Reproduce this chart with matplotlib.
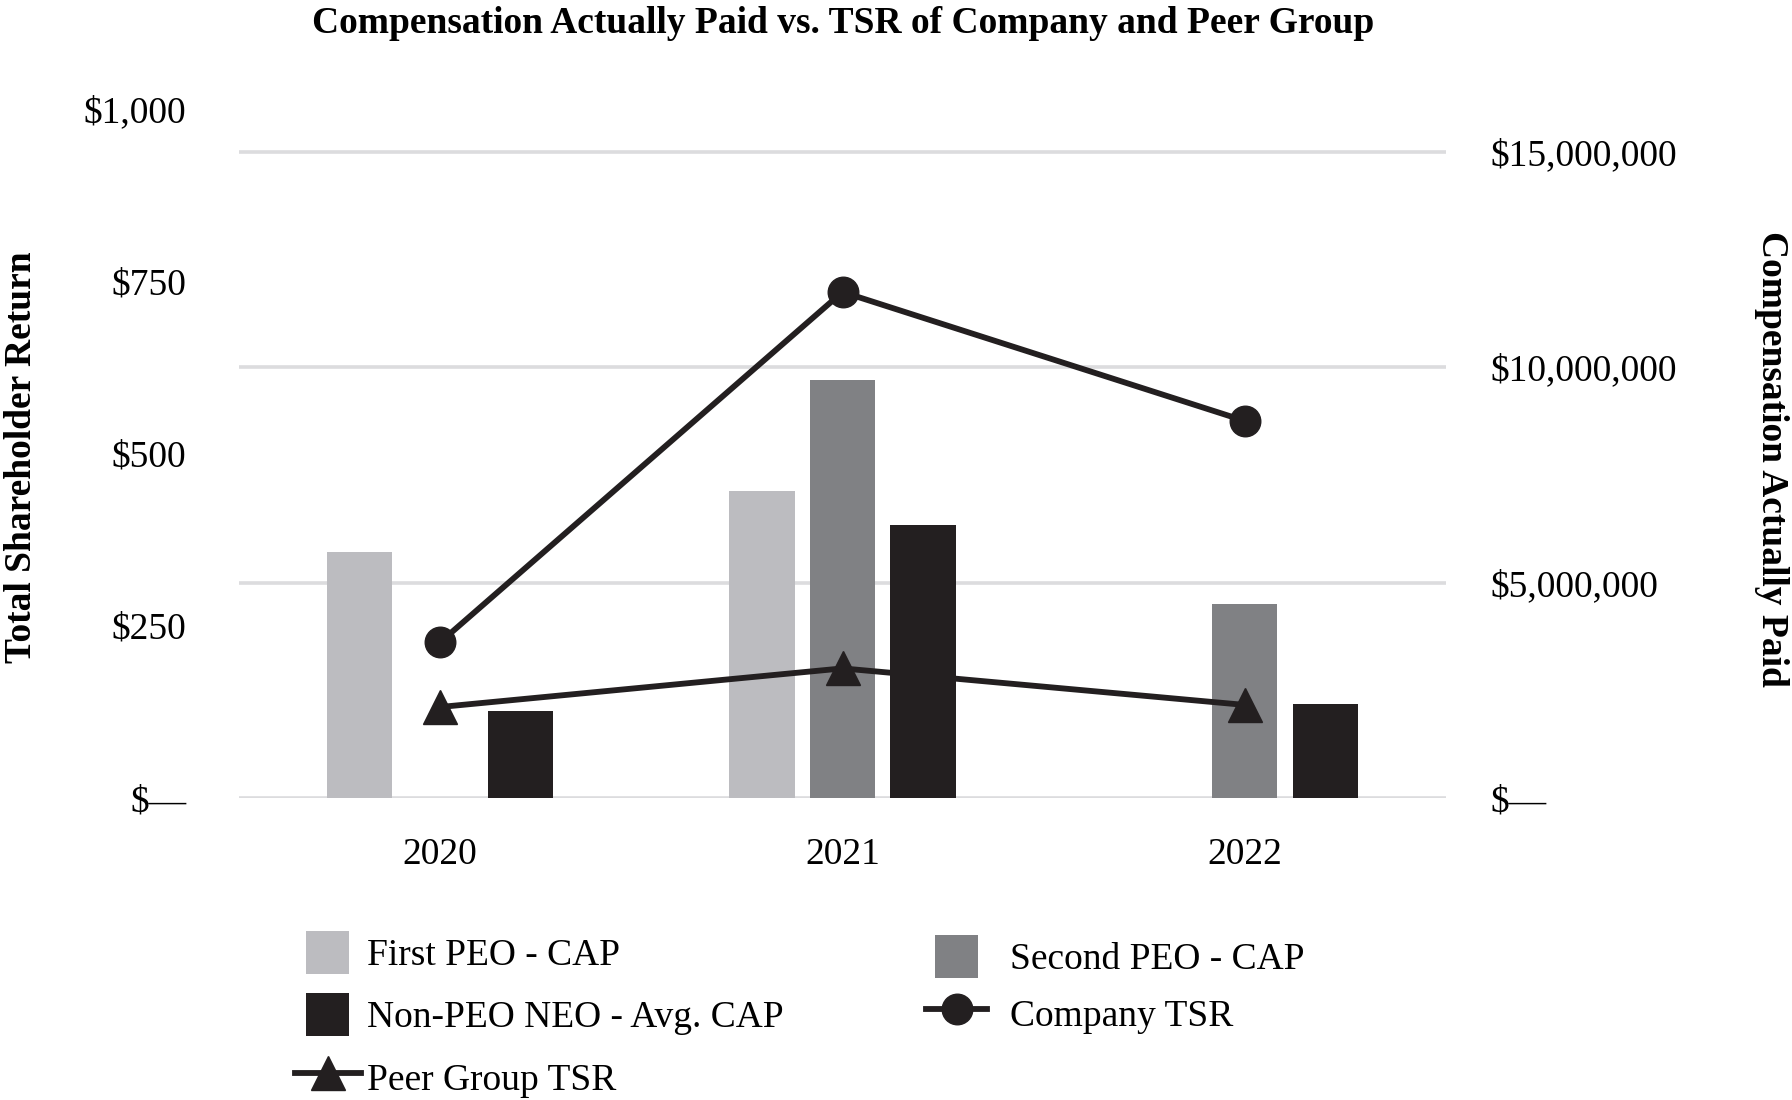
import matplotlib
matplotlib.use('Agg')
import matplotlib.pyplot as plt
from matplotlib.patches import Rectangle, Patch
from matplotlib.lines import Line2D
from matplotlib.legend_handler import HandlerPatch
import numpy as np

plt.rcParams['font.family'] = ['Liberation Serif', 'DejaVu Serif']
plt.rcParams['text.parse_math'] = False

# ---- data ----
years = ['2020', '2021', '2022']
first_peo_cap = [5.72e6, 7.12e6, np.nan]
second_peo_cap = [np.nan, 9.71e6, 4.51e6]
non_peo_cap = [2.03e6, 6.33e6, 2.18e6]
company_tsr = [226, 734, 547]
peer_tsr = [132, 188, 135]

tsr_ticks = [0, 250, 500, 750, 1000]
tsr_tick_labels = ['$\u2014', '$250', '$500', '$750', '$1,000']
cap_ticks = [0, 5e6, 10e6, 15e6]
cap_tick_labels = ['$\u2014', '$5,000,000', '$10,000,000', '$15,000,000']

series_names = ['First PEO - CAP', 'Second PEO - CAP', 'Non-PEO NEO - Avg. CAP',
                'Company TSR', 'Peer Group TSR']

# ---- style ----
c_first = '#bcbcc0'
c_second = '#808184'
c_dark = '#231f20'
c_grid = '#dcdcde'
FS = 27
LW = 4.2

fig = plt.figure(figsize=(17.92, 11), dpi=100)
ax = fig.add_axes([0.1334, 0.27455, 0.6735, 0.6267])
ax2 = ax.twinx()

x = np.arange(len(years))
bw = 0.162
off = 0.2
ax.bar(x - off, first_peo_cap, bw, color=c_first, zorder=2)
ax.bar(x, second_peo_cap, bw, color=c_second, zorder=2)
ax.bar(x + off, non_peo_cap, bw, color=c_dark, zorder=2)

ax.set_ylim(0, 16e6)
ax.set_xlim(-0.5, 2.5)
ax.set_yticks(cap_ticks)
ax.set_yticklabels(cap_tick_labels)
ax.yaxis.tick_right()
ax.yaxis.set_label_position('right')
ax.grid(axis='y', color=c_grid, lw=2.6, zorder=0)
ax.set_axisbelow(True)
ax.tick_params(axis='y', length=0, pad=32, labelsize=FS)
ax.set_xticks(x)
ax.set_xticklabels(years)
ax.tick_params(axis='x', length=0, pad=28.5, labelsize=FS)

ax2.plot(x, company_tsr, color=c_dark, lw=LW, marker='o', ms=22, zorder=5)
ax2.plot(x, peer_tsr, color=c_dark, lw=LW, marker='^', ms=25, zorder=5)
ax2.set_ylim(0, 1000)
ax2.set_yticks(tsr_ticks)
ax2.set_yticklabels(tsr_tick_labels)
ax2.yaxis.tick_left()
ax2.yaxis.set_label_position('left')
ax2.tick_params(axis='y', length=0, pad=38, labelsize=FS)

for a in (ax, ax2):
    for s in a.spines.values():
        s.set_visible(False)

ax2.set_ylabel('Total Shareholder Return', fontsize=FS, fontweight='bold')
ax2.yaxis.set_label_coords(-0.1806, 0.494)
ax2.yaxis.label.set_va('center')
ax.set_ylabel('Compensation Actually Paid', fontsize=FS, fontweight='bold',
              rotation=270)
ax.yaxis.set_label_coords(1.270, 0.492)
ax.yaxis.label.set_va('center')

fig.suptitle('Compensation Actually Paid vs. TSR of Company and Peer Group',
             fontsize=27, fontweight='bold', x=0.4704, y=0.979, va='center')

# ---- legend ----
def square_patch(legend, orig_handle, xdescent, ydescent, width, height, fontsize):
    return Rectangle((-xdescent + (width - height) / 2, -ydescent), height, height)

h_first = Patch(facecolor=c_first)
h_second = Patch(facecolor=c_second)
h_non = Patch(facecolor=c_dark)
h_comp = Line2D([], [], color=c_dark, lw=LW, marker='o', ms=22)
h_peer = Line2D([], [], color=c_dark, lw=LW, marker='^', ms=25)
hp = HandlerPatch(patch_func=square_patch)

common = dict(loc='upper left', frameon=False, fontsize=FS, handleheight=1.39,
              borderpad=0, borderaxespad=0, handler_map={Patch: hp})
leg1 = fig.legend([h_first, h_non, h_peer],
                  [series_names[0], series_names[2], series_names[4]],
                  bbox_to_anchor=(0.1646, 0.154), handlelength=1.76,
                  handletextpad=0.16, labelspacing=0.52, **common)
leg2 = fig.legend([h_second, h_comp],
                  [series_names[1], series_names[3]],
                  bbox_to_anchor=(0.5165, 0.1497), handlelength=1.65,
                  handletextpad=0.59, labelspacing=0.375, **common)

fig.savefig('out.png', dpi=100)
